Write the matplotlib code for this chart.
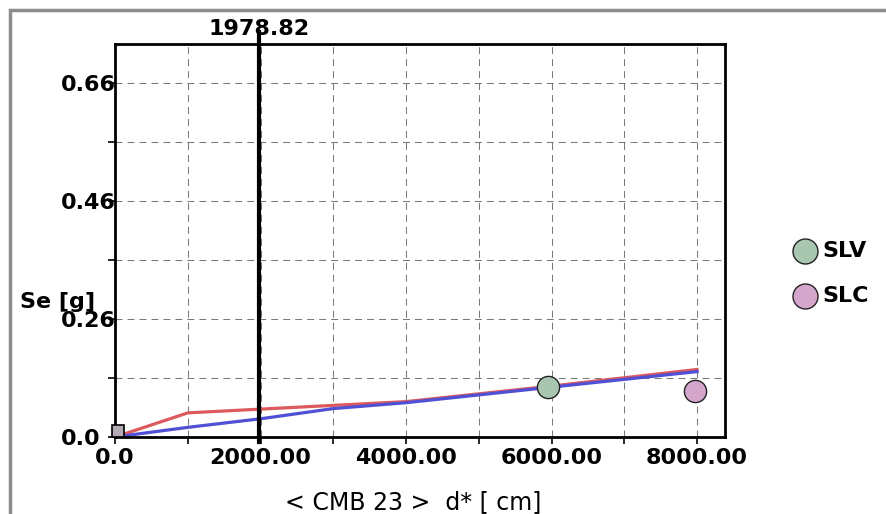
import numpy as np
import matplotlib.pyplot as plt
from matplotlib.patches import Rectangle
from matplotlib.transforms import Bbox, TransformedBbox, blended_transform_factory

# curves (d* in cm, Se in g)
red_x = [0, 1000, 2000, 3000, 4000, 6000, 8000]
red_y = [0.0, 0.045, 0.052, 0.059, 0.066, 0.095, 0.126]
blue_x = [0, 1000, 2000, 3000, 4000, 6000, 8000]
blue_y = [0.0, 0.018, 0.034, 0.053, 0.064, 0.093, 0.122]

origin_pt = (40, 0.011)

# limit state points
pt_names = ['SLV', 'SLC']
pt_x = [5950, 7970]
pt_y = [0.093, 0.086]
pt_colors = ['#a8c6b0', '#d4a6cc']

d_star = 1978.82

x_ticks = [0, 1000, 2000, 3000, 4000, 5000, 6000, 7000, 8000]
x_labels = ['0.0', '', '2000.00', '', '4000.00', '', '6000.00', '', '8000.00']
y_ticks = [0.0, 0.11, 0.22, 0.33, 0.44, 0.55, 0.66]
y_labels = ['0.0', '', '0.26', '', '0.46', '', '0.66']

bold = dict(family='DejaVu Sans', fontweight='bold', fontsize=16)

fig = plt.figure(figsize=(8.87, 5.14), dpi=100)
fig.patches.append(Rectangle((0.011, -0.1), 1.2, 1.08, transform=fig.transFigure,
                             fill=False, edgecolor='#8c8c8c', linewidth=2.5))
ax = fig.add_axes([0.1297, 0.1498, 0.6877, 0.7646])

ax.plot(red_x, red_y, color='#dc5a5e', linewidth=2.3)
ax.plot(blue_x, blue_y, color='#5050d4', linewidth=2.3)
ax.plot([origin_pt[0]], [origin_pt[1]], marker='s', markersize=8, color='#b4aab4',
        markeredgecolor='black', markeredgewidth=1.2, clip_on=False, zorder=5)
for x, y, c in zip(pt_x, pt_y, pt_colors):
    ax.plot([x], [y], marker='o', markersize=16, color=c, markeredgecolor='#222222',
            markeredgewidth=1, zorder=6)

trans = blended_transform_factory(ax.transData, ax.transAxes)
ax.plot([d_star, d_star], [-0.013, 1.03], color='black', linewidth=3, clip_on=False,
        transform=trans, zorder=7)
ax.text(d_star, 1.038, '1978.82', ha='center', va='center', transform=trans, **bold)

ax.set_xlim(0, 8385)
ax.set_ylim(0, 0.733)
ax.set_xticks(x_ticks)
ax.set_xticklabels(x_labels, **bold)
ax.set_yticks(y_ticks)
ax.set_yticklabels(y_labels, **bold)
ax.tick_params(axis='x', direction='out', length=5, width=1.2, pad=3)
ax.tick_params(axis='y', direction='out', length=5, width=1.2, pad=33.8)
for lbl in ax.get_yticklabels():
    lbl.set_horizontalalignment('left')
clip = TransformedBbox(Bbox([[0, 0], [0.1297, 1]]), fig.transFigure)
for t in ax.yaxis.get_major_ticks():
    t.label1.set_clip_box(clip)
    t.label1.set_clip_on(True)
ax.grid(True, linestyle=(0, (6.7, 4.8)), color='#7a7a7a', linewidth=0.75)
for s in ax.spines.values():
    s.set_linewidth(2)

fig.text(0.0225, 0.4125, 'Se [g]', ha='left', va='center', **bold)
fig.text(0.4656, 0.0233, '< CMB 23 >  d* [ cm]', fontsize=17, family='DejaVu Sans',
         ha='center', va='center')

for i, (n, c) in enumerate(zip(pt_names, pt_colors)):
    yy = 1 - (251 + i * 45) / 514
    fig.lines.append(plt.Line2D([0.9076], [yy], marker='o', markersize=18, color=c,
                                markeredgecolor='#222222', transform=fig.transFigure))
    fig.text(0.927, yy, n, va='center', ha='left', **bold)

fig.savefig('out.png', dpi=100, facecolor='white')
